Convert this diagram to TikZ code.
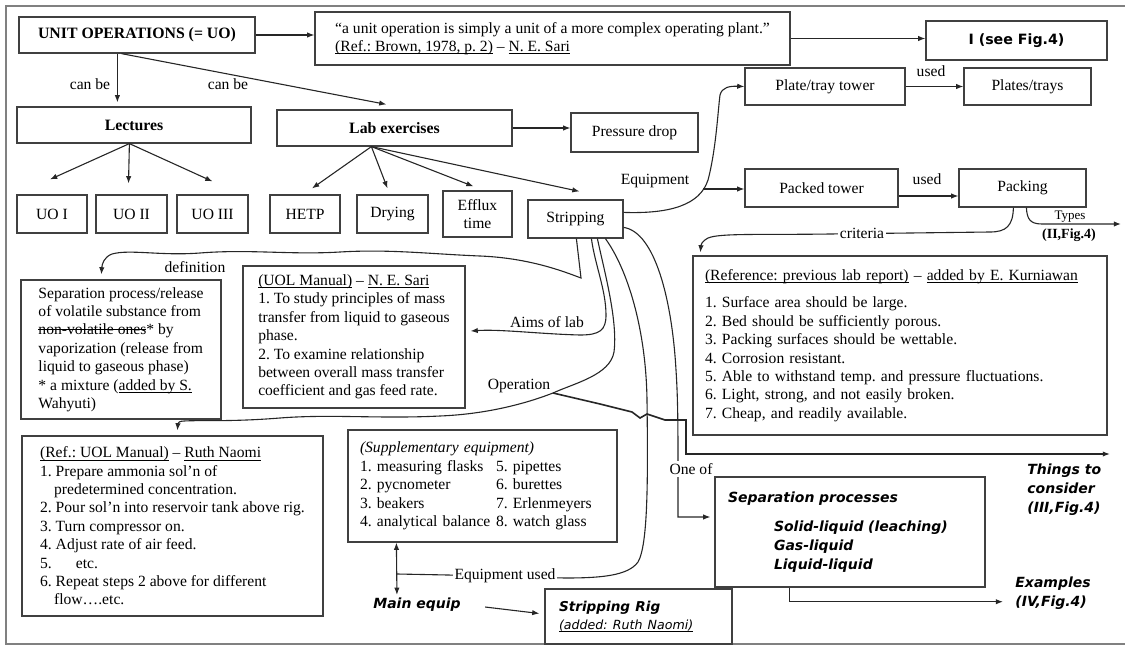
\documentclass[tikz,border=0pt]{standalone}
\usepackage{fontspec}
\setmainfont{Liberation Serif}
\newfontfamily\vsans{DejaVu Sans}
\usetikzlibrary{arrows.meta,calc}
\frenchspacing
\newsavebox\mystrikebox
\newcommand\mystrike[1]{\leavevmode\sbox\mystrikebox{#1}\rlap{\rule[0.28em]{\wd\mystrikebox}{0.5pt}}\usebox\mystrikebox}
\newcommand\myul[1]{\leavevmode\sbox\mystrikebox{#1}\rlap{\rule[-1.3pt]{\wd\mystrikebox}{0.4pt}}\usebox\mystrikebox}
\begin{document}
\begin{tikzpicture}[x=0.5pt,y=-0.5pt,
  font=\fontsize{7.8}{9.2}\selectfont,
  box/.style={draw=black!75, line width=0.6pt, inner sep=0pt, align=center},
  tbox/.style={draw=black!75, line width=0.6pt, inner xsep=6pt, inner ysep=0pt, align=left},
  con/.style={draw=black!85, line width=0.55pt},
  arr/.style={con, -{Latex[length=3.6pt,width=2.7pt]}},
  arrtwo/.style={con, {Latex[length=3.6pt,width=2.7pt]}-{Latex[length=3.6pt,width=2.7pt]}},
  lbl/.style={inner sep=1pt},
  wlbl/.style={inner sep=1pt, fill=white},
  sbi/.style={font=\vsans\bfseries\itshape\fontsize{7}{9.5}\selectfont}]
\useasboundingbox (0,0) rectangle (1125,648);
% frame
\draw[black!50, line width=1pt] (1125,6) -- (6,6) -- (6,644) -- (1125,644);

% top row
\node[box, minimum width=118pt, minimum height=18pt, font=\bfseries\fontsize{7.9}{9}\selectfont] (uo) at (137,35) {UNIT OPERATIONS (= UO)};
\node[tbox, minimum width=237.5pt, minimum height=26.5pt] (quote) at (552.5,38.5)
  {“a unit operation is simply a unit of a more complex operating plant.”\\
   \myul{(Ref.: Brown, 1978, p. 2)} – \myul{N. E. Sari}};
\node[box, minimum width=90.5pt, minimum height=19.5pt, font=\vsans\bfseries\fontsize{7.1}{9}\selectfont] (see4) at (1016.5,40.5) {I (see Fig.4)};

\node[box, minimum width=117pt, minimum height=18pt, font=\bfseries\fontsize{7.9}{9}\selectfont] (lect) at (134,125) {Lectures};
\node[box, minimum width=117.5pt, minimum height=18pt, font=\bfseries\fontsize{7.9}{9}\selectfont] (lab) at (394.5,128) {Lab exercises};
\node[box, minimum width=63.5pt, minimum height=19.5pt] (pdrop) at (634.5,132.5) {Pressure drop};
\node[box, minimum width=80pt, minimum height=18.5pt] (plate) at (825,86.5) {Plate/tray tower};
\node[box, minimum width=63.5pt, minimum height=18.5pt] (plates) at (1027.5,86.5) {Plates/trays};
\node[box, minimum width=76.5pt, minimum height=19pt] (packed) at (821.5,188) {Packed tower};
\node[box, minimum width=63.5pt, minimum height=19pt] (packing) at (1022.5,188) {Packing};

\node[box, minimum width=35pt, minimum height=19pt] (uo1) at (52,214) {UO I};
\node[box, minimum width=35.5pt, minimum height=19pt] (uo2) at (131.5,214) {UO II};
\node[box, minimum width=35.5pt, minimum height=19pt] (uo3) at (212.5,214) {UO III};
\node[box, minimum width=35pt, minimum height=19pt] (hetp) at (305,214) {HETP};
\node[box, minimum width=35.5pt, minimum height=19pt] (dry) at (392.5,214) {Drying};
\node[box, minimum width=34.5pt, minimum height=23pt] (efflux) at (477.5,214) {Efflux\\time};
\node[box, minimum width=47.5pt, minimum height=19pt] (strip) at (575.5,219) {Stripping};

% text boxes
\node[tbox, minimum width=100pt, minimum height=69.5pt] (sepdef) at (121,349.5)
  {Separation process/release\\
   of volatile substance from\\
   \mystrike{non-volatile ones}* by\\
   vaporization (release from\\
   liquid to gaseous phase)\\
   * a mixture (\myul{added by S.}\\
   Wahyuti)};
\node[tbox, minimum width=111pt, minimum height=71pt] (uol) at (354,337)
  {\myul{(UOL Manual)} – \myul{N. E. Sari}\\
   1. To study principles of mass\\
   transfer from liquid to gaseous\\
   phase.\\
   2. To examine relationship\\
   between overall mass transfer\\
   coefficient and gas feed rate.};
\node[tbox, text width=195pt, minimum height=89.5pt] (ref) at (900,345.5)
  {\myul{(Reference: previous lab report)} – \myul{added by E. Kurniawan}\\[4.5pt]
   1. Surface area should be large.\\
   2. Bed should be sufficiently porous.\\
   3. Packing surfaces should be wettable.\\
   4. Corrosion resistant.\\
   5. Able to withstand temp. and pressure fluctuations.\\
   6. Light, strong, and not easily broken.\\
   7. Cheap, and readily available.};
\node[tbox, minimum width=150.5pt, minimum height=90pt] (ruth) at (172.5,526)
  {\myul{(Ref.: UOL Manual)} – \myul{Ruth Naomi}\\
   1. Prepare ammonia sol'n of\\
   \hspace*{7pt}predetermined concentration.\\
   2. Pour sol'n into reservoir tank above rig.\\
   3. Turn compressor on.\\
   4. Adjust rate of air feed.\\
   5.\hspace*{12pt}etc.\\
   6. Repeat steps 2 above for different\\
   \hspace*{7pt}flow….etc.};
\node[tbox, text width=122.5pt, minimum height=56pt] (supp) at (482.5,486)
  {{\itshape (Supplementary equipment)}\\
   \makebox[68pt][l]{1. measuring flasks}5. pipettes\\
   \makebox[68pt][l]{2. pycnometer}6. burettes\\
   \makebox[68pt][l]{3. beakers}7. Erlenmeyers\\
   \makebox[68pt][l]{4. analytical balance}8. watch glass};
\node[tbox, sbi, inner xsep=6.5pt, text width=122pt, minimum height=55pt] (seppro) at (850,532)
  {Separation processes\\[5pt]
   \hspace*{23pt}Solid-liquid (leaching)\\
   \hspace*{23pt}Gas-liquid\\
   \hspace*{23pt}Liquid-liquid};
\node[tbox, inner xsep=7pt, text width=79.5pt, minimum height=27.5pt] (rig) at (638.5,616.5)
  {{\vsans\bfseries\itshape\fontsize{6.8}{9.5}\selectfont Stripping Rig}\\
   {\vsans\itshape\fontsize{6.3}{9}\selectfont \myul{(added: Ruth Naomi)}}};
\node[lbl, sbi] (mainq) at (417,605) {Main equip};
\node[lbl, sbi, align=left, anchor=north west] (thingsl) at (1025,461) {Things to\\consider\\(III,Fig.4)};
\node[lbl, sbi, align=left, anchor=north west] (examp) at (1013,574) {Examples\\(IV,Fig.4)};

% connectors: top
\draw[arr] (uo.east) -- (uo.east -| quote.west);
\draw[arr] (quote.east) -- (quote.east -| see4.west);
\draw[arr] ($(uo.south west)+(99,0)$) -- ($(lect.north west)+(101,-4)$);
\draw[arr] ($(uo.south west)+(103,0)$) -- ($(lab.north west)+(110,-5)$);
\node[lbl] at (90,84) {can be};
\node[lbl] at (228,84) {can be};
\draw[arr] (lab.east) -- (lab.east -| pdrop.west);

\draw[arr] ($(lect.south west)+(113,0)$) -- ($(uo1.north)+(-2,-15)$);
\draw[arr] ($(lect.south west)+(113,0)$) -- ($(uo2.north)+(-3,-11)$);
\draw[arr] ($(lect.south west)+(113,0)$) -- ($(uo3.north)+(0,-13)$);
\draw[arr] ($(lab.south west)+(95,0)$) -- ($(hetp.north)+(7,-6)$);
\draw[arr] ($(lab.south west)+(95,0)$) -- ($(dry.north)+(-5,-6)$);
\draw[arr] ($(lab.south west)+(95,0)$) -- ($(efflux.north)+(-4,-4)$);
\draw[arr] ($(lab.south west)+(95,0)$) -- ($(strip.north)+(4,-8)$);

% equipment
\draw[arr] ($(strip.north east)+(0,13)$) .. controls (670,214) and (700,205) .. (708,180)
  .. controls (716,150) and (718,110) .. (720,95) .. controls (722,87) and (730,86) .. (plate.west);
\coordinate (eqb) at (703,189);
\draw[arr] (eqb) -- (eqb -| packed.west);
\node[lbl] at (655,181) {Equipment};
\draw[arr] (plate.east) -- (plate.east -| plates.west);
\node[lbl] at (931,71) {used};
\draw[arr] ($(packed.east)+(0,8)$) -- ($(packing.west)+(0,8)$);
\node[lbl] at (927,179) {used};

% criteria and types
\draw[arr] ($(packing.south west)+(55,0)$) .. controls (1013,226) and (1006,232) .. (990,232)
  -- (830,234) .. controls (760,235) and (720,233) .. (708,238)
  .. controls (702,241) and (701,245) .. ($(ref.north west)+(8,-3)$);
\node[wlbl] at (862,233) {criteria};
\coordinate (typend) at (1121,224);
\draw[arr] ($(packing.south west)+(68,0)$) .. controls (1027,219) and (1030,224) .. (1042,224) -- (typend);
\node[lbl, font=\fontsize{6.5}{8}\selectfont] at (1070,217) {Types};
\node[lbl, font=\bfseries\fontsize{7}{8}\selectfont] at (1069,235) {(II,Fig.4)};

% definition
\draw[arr] ($(strip.south west)+(49,0)$) -- (581,278) .. controls (565,272) and (530,258) .. (480,256)
  .. controls (430,254) and (390,249) .. (340,252) .. controls (290,255) and (250,249) .. (200,253)
  .. controls (160,256) and (130,249) .. (112,254) .. controls (104,257) and (102,264) .. ($(sepdef.north west)+(81,-5)$);
\node[lbl] at (195,267) {definition};

% aims of lab
\draw[arr] ($(strip.south west)+(64,0)$) .. controls (595,265) and (606,290) .. (606,315)
  .. controls (606,330) and (600,335) .. (580,335) .. controls (540,334) and (500,329) .. ($(uol.east)+(5,-6)$);
\node[lbl] at (547,322) {Aims of lab};

% operation
\coordinate (opj) at (553,393);
\draw[con] ($(strip.south west)+(70,0)$) .. controls (604,270) and (618,320) .. (614,352)
  .. controls (610,375) and (575,383) .. (opj);
\node[lbl] at (519,386) {Operation};
\draw[arr] (opj) .. controls (530,402) and (490,414) .. (440,416) .. controls (380,419) and (330,414) .. (280,418)
  .. controls (230,422) and (200,420) .. (184,421) .. controls (179,421) and (178,423) .. ($(ruth.north west)+(156,-5)$);
\coordinate (thingend) at (1110,454);
\draw[arr, line width=0.8pt] (opj) -- (600,404) -- (632,412) -- (640,418) -- (647,414) -- (665,420) -- (686,420) -- (686,454) -- (thingend);

% one of
\draw[arr] ($(strip.north east)+(0,28)$) .. controls (655,232) and (672,300) .. (676,370)
  .. controls (678,400) and (678,430) .. (678,470) -- (678,517) -- ($(seppro.west)+(-4,-15)$);
\node[wlbl] at (691,469) {One of};

% equipment used
\coordinate (eqj) at (397,574);
\draw[con] ($(strip.south west)+(78,0)$) .. controls (628,270) and (646,330) .. (647,400)
  .. controls (648,480) and (648,545) .. (638,562) .. controls (628,576) and (600,578) .. (565,578)
  -- (448,575) -- (eqj);
\node[wlbl] at (505,576) {Equipment used};
\draw[arrtwo] ($(supp.south west)+(49,0)$) -- ($(mainq.north west)+(26,-1)$);
\draw[arr] ($(mainq.east)+(22,2)$) -- ($(rig.west)+(-5,-3)$);

% examples
\draw[arr] ($(seppro.south west)+(75,0)$) |- ($(examp.west)+(-10,9)$);
\end{tikzpicture}
\end{document}
